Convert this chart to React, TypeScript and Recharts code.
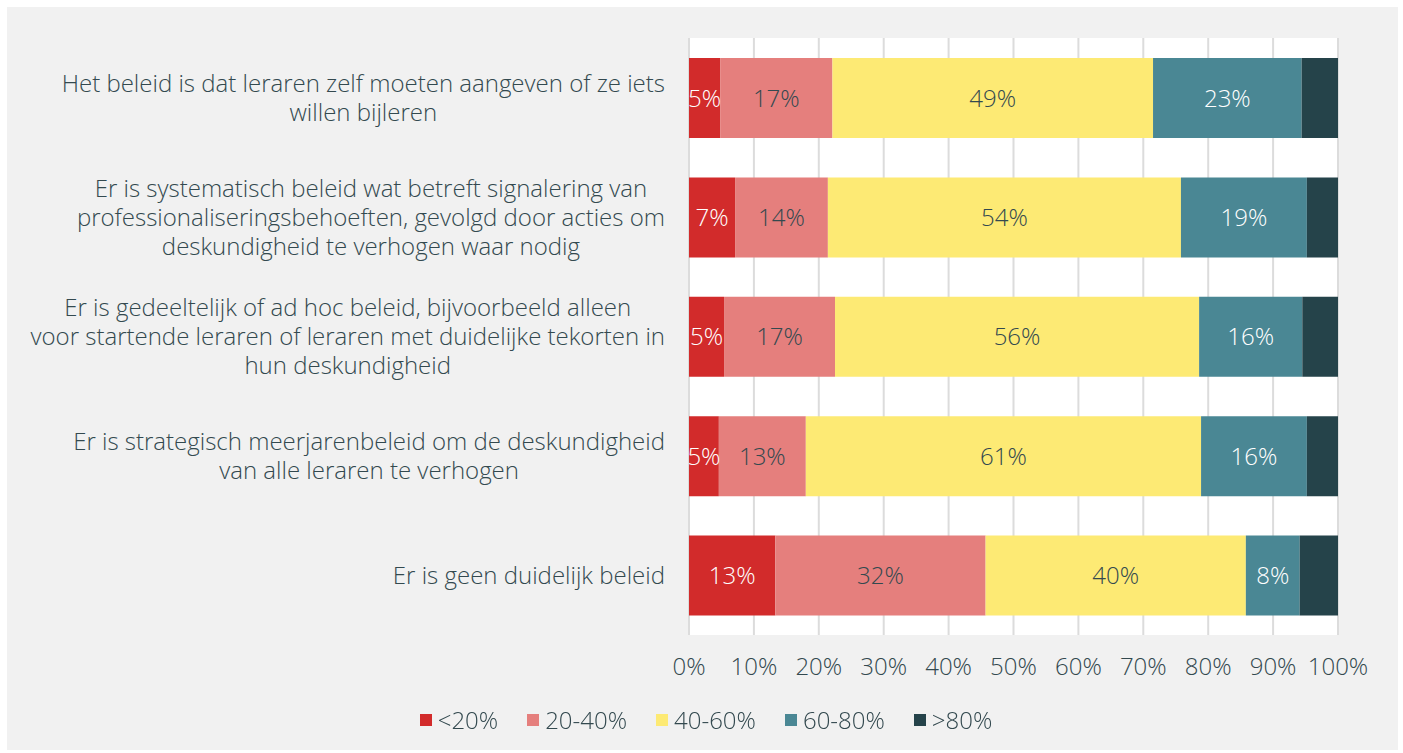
import React from 'react';
import { BarChart, Bar, XAxis, YAxis, CartesianGrid, Legend, LabelList } from 'recharts';

// Category labels, pre-wrapped as in the source chart
const categories: string[][] = [
  ['Het beleid is dat leraren zelf moeten aangeven of ze iets', 'willen bijleren'],
  ['Er is systematisch beleid wat betreft signalering van', 'professionaliseringsbehoeften, gevolgd door acties om', 'deskundigheid te verhogen waar nodig'],
  ['Er is gedeeltelijk of ad hoc beleid, bijvoorbeeld alleen', 'voor startende leraren of leraren met duidelijke tekorten in', 'hun deskundigheid'],
  ['Er is strategisch meerjarenbeleid om de deskundigheid', 'van alle leraren te verhogen'],
  ['Er is geen duidelijk beleid'],
];

const seriesNames = ['<20%', '20-40%', '40-60%', '60-80%', '>80%'];
const below20 = [4.8, 7.1, 5.4, 4.6, 13.3];
const from20to40 = [17.3, 14.3, 17.1, 13.4, 32.4];
const from40to60 = [49.4, 54.4, 56.1, 60.9, 40.1];
const from60to80 = [22.9, 19.4, 15.9, 16.3, 8.3];
const above80 = [5.6, 4.8, 5.5, 4.8, 5.9];
const xTicks = [0, 10, 20, 30, 40, 50, 60, 70, 80, 90, 100];

const COLORS = ['#d22b2b', '#e57f7d', '#fdea74', '#4a8794', '#25434a'];
const LABEL_COLORS = ['#ffffff', '#33494f', '#33494f', '#ffffff', '#ffffff'];
const TEXT = '#33494f';
const FONT = '"Open Sans", sans-serif';
const FONT_WEIGHT = 300;
const FS = 24;

const data = categories.map((lines, i) => ({
  name: lines.join(' '),
  lines,
  s0: below20[i],
  s1: from20to40[i],
  s2: from40to60[i],
  s3: from60to80[i],
  s4: above80[i],
}));

let ctx: CanvasRenderingContext2D | null = null;
const measure = (s: string) => {
  if (!ctx) ctx = document.createElement('canvas').getContext('2d');
  if (!ctx) return s.length * 11;
  ctx.font = `${FONT_WEIGHT} ${FS}px "Open Sans"`;
  return ctx.measureText(s).width;
};

const CategoryTick = (props: any) => {
  const { y, payload } = props;
  const row = data.find((d) => d.name === payload.value);
  const lines = row ? row.lines : [String(payload.value)];
  const maxW = Math.max(...lines.map(measure));
  const right = 658;
  const cx = right - maxW / 2;
  const lh = 29;
  const startY = y - ((lines.length - 1) * lh) / 2;
  return (
    <text textAnchor="middle" fill={TEXT} fontSize={FS} fontFamily={FONT} fontWeight={FONT_WEIGHT}>
      {lines.map((l, i) => (
        <tspan key={i} x={cx} y={startY + i * lh} dy="0.35em">{l}</tspan>
      ))}
    </text>
  );
};

const LegendContent = () => (
  <div style={{ display: 'flex', justifyContent: 'center', fontFamily: FONT, fontWeight: FONT_WEIGHT, fontSize: FS, color: TEXT, lineHeight: '28px' }}>
    {seriesNames.map((n, i) => (
      <div key={n} style={{ display: 'flex', alignItems: 'center', marginRight: i < seriesNames.length - 1 ? 29 : 0 }}>
        <span style={{ width: 12, height: 12, background: COLORS[i], display: 'inline-block', marginRight: 6 }} />
        <span>{n}</span>
      </div>
    ))}
  </div>
);

const App: React.FC = () => {
  return (
    <div style={{ position: 'fixed', top: 0, left: 0, width: 1403, height: 753, background: '#fff' }}>
      <div style={{ position: 'absolute', left: 7, top: 7, width: 1391, height: 743, background: '#f1f1f1' }}>
        <BarChart
          width={1391}
          height={743}
          data={data}
          layout="vertical"
          margin={{ top: 31, right: 60, bottom: 37, left: 0 }}
          barSize={80}
        >
          <CartesianGrid horizontal={false} vertical stroke="#dcdcdc" strokeWidth={2} fill="#ffffff" />
          <XAxis
            type="number"
            domain={[0, 100]}
            ticks={xTicks}
            tickFormatter={(v) => `${v}%`}
            axisLine={false}
            tickLine={false}
            tickMargin={17}
            height={50}
            tick={{ fill: TEXT, fontSize: FS, fontFamily: FONT, fontWeight: FONT_WEIGHT }}
          />
          <YAxis
            type="category"
            dataKey="name"
            width={682}
            axisLine={false}
            tickLine={false}
            tick={<CategoryTick />}
            interval={0}
          />
          <Legend
            verticalAlign="bottom"
            content={<LegendContent />}
            wrapperStyle={{ bottom: 16, left: 0, width: 1398 }}
          />
          {seriesNames.map((n, i) => (
            <Bar key={n} dataKey={`s${i}`} name={n} stackId="a" fill={COLORS[i]} isAnimationActive={false}>
              {i < 4 && (
                <LabelList
                  dataKey={`s${i}`}
                  position="center"
                  formatter={(v: any) => `${Math.round(Number(v))}%`}
                  fill={LABEL_COLORS[i]}
                  fontSize={FS}
                  fontFamily={FONT}
                  fontWeight={FONT_WEIGHT}
                />
              )}
            </Bar>
          ))}
        </BarChart>
      </div>
    </div>
  );
};

export default App;
